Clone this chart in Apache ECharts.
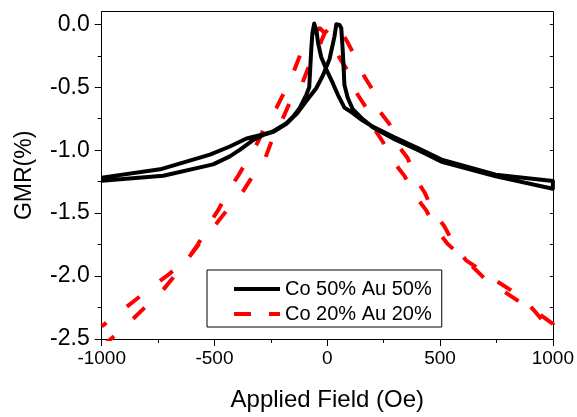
<!DOCTYPE html>
<html>
<head>
<meta charset="utf-8">
<script src="https://cdn.jsdelivr.net/npm/echarts@6/dist/echarts.min.js"></script>
<style>
html,body{margin:0;padding:0;background:#fff;}
#chart{width:577px;height:417px;}
</style>
</head>
<body>
<div id="chart"></div>
<script>
// ---- Data ----
const seriesNames = ['Co 50% Au 50%', 'Co 20% Au 20%'];

// Co 50% Au 50% : sweep up (peak at positive field)
const blackUpField = [-1000,-727,-506,-432,-388,-329,-285,-240,-181,-137,-93,-49,-19,10,32,40,54,62,69,76,91,113,157,201,300,408,511,747,1000];
const blackUpGmr   = [-1.242,-1.203,-1.113,-1.049,-0.997,-0.92,-0.881,-0.855,-0.791,-0.714,-0.61,-0.508,-0.405,-0.276,-0.096,0,-0.005,-0.03,-0.224,-0.482,-0.585,-0.675,-0.753,-0.817,-0.915,-1.005,-1.095,-1.208,-1.306];
// Co 50% Au 50% : sweep down (peak at negative field), listed left to right
const blackDownField = [-1000,-741,-520,-432,-358,-285,-240,-181,-150,-122,-93,-80,-75,-71,-66,-58,-48,-41,-27,-4,25,47,76,113,157,201,300,408,511,747,1000];
const blackDownGmr   = [-1.218,-1.152,-1.036,-0.971,-0.907,-0.875,-0.85,-0.785,-0.73,-0.665,-0.56,-0.5,-0.33,-0.2,-0.07,0.005,-0.05,-0.147,-0.26,-0.36,-0.47,-0.56,-0.662,-0.705,-0.765,-0.812,-0.9,-0.99,-1.078,-1.195,-1.244];

// Co 20% Au 20% : sweep up
const redUpField = [-1000,-962,-903,-807,-749,-667,-623,-557,-506,-432,-380,-321,-277,-240,-211,-167,-122,-86,-56,-11,10,32,42,60,91,121,165,201,231,275,312,356,393,430,474,518,566,614,710,762,864,916,1000];
const redUpGmr   = [-2.56,-2.504,-2.414,-2.246,-2.156,-1.976,-1.873,-1.719,-1.615,-1.448,-1.345,-1.178,-1.074,-0.894,-0.804,-0.624,-0.521,-0.353,-0.263,-0.067,-0.031,-0.005,0,-0.05,-0.147,-0.25,-0.417,-0.521,-0.688,-0.791,-0.958,-1.062,-1.229,-1.332,-1.499,-1.603,-1.76,-1.873,-1.989,-2.053,-2.169,-2.272,-2.45];
// Co 20% Au 20% : sweep down, listed left to right
const redDownField = [-1000,-918,-859,-763,-704,-608,-572,-520,-483,-432,-395,-336,-307,-262,-225,-174,-152,-115,-100,-78,-50,-33,-12,20,62,99,135,172,209,246,297,342,393,437,489,533,636,695,791,850,946,1000];
const redDownGmr   = [-2.40,-2.285,-2.202,-2.066,-1.989,-1.835,-1.744,-1.577,-1.474,-1.306,-1.203,-1.023,-0.933,-0.753,-0.662,-0.482,-0.392,-0.218,-0.16,-0.121,-0.05,-0.031,-0.069,-0.16,-0.289,-0.392,-0.56,-0.662,-0.83,-0.933,-1.1,-1.204,-1.371,-1.474,-1.641,-1.744,-1.912,-2.015,-2.131,-2.202,-2.311,-2.38];

// Axis ticks
const fieldMajor = [-1000,-500,0,500,1000];
const fieldMinor = [-750,-250,250,750];
const gmrMajor = [-2.5,-2.0,-1.5,-1.0,-0.5,0.0];
const gmrMinor = [-2.25,-1.75,-1.25,-0.75,-0.25];

// ---- Build loops: sweep up then sweep down (reversed) ----
function loop(upX, upY, downX, downY){
  const pts = upX.map((x,i)=>[x, upY[i]]);
  for(let i=downX.length-1;i>=0;i--) pts.push([downX[i], downY[i]]);
  return pts;
}

const FONT = '"Liberation Sans", Arial, sans-serif';
const chart = echarts.init(document.getElementById('chart'), null, {renderer:'canvas'});

const xCommon = {type:'value', min:-1000, max:1000, splitLine:{show:false}};
const yCommon = {type:'value', min:-2.5, max:0.1, splitLine:{show:false}};

chart.setOption({
  animation:false,
  backgroundColor:'#fff',
  grid:{left:101.7, right:22.7, top:11.7, bottom:69.3, show:false},
  xAxis:[
    Object.assign({}, xCommon, {
      position:'bottom',
      name:'Applied Field (Oe)', nameLocation:'middle', nameGap:49,
      nameTextStyle:{fontFamily:FONT, fontSize:24, color:'#000'},
      axisLine:{show:true, onZero:false, lineStyle:{color:'#000', width:1}},
      axisTick:{show:true, inside:false, length:7, lineStyle:{color:'#000', width:1}, customValues:fieldMajor},
      axisLabel:{show:true, margin:10, fontFamily:FONT, fontSize:19, color:'#000', customValues:fieldMajor,
        formatter:function(v){ return String(Math.round(v)); }}
    }),
    Object.assign({}, xCommon, {
      position:'bottom',
      axisLine:{show:false, onZero:false},
      axisTick:{show:true, inside:false, length:4, lineStyle:{color:'#000', width:1}, customValues:fieldMinor},
      axisLabel:{show:false}
    }),
    Object.assign({}, xCommon, {
      position:'top',
      axisLine:{show:true, onZero:false, lineStyle:{color:'#000', width:1}},
      axisTick:{show:false},
      axisLabel:{show:false}
    })
  ],
  yAxis:[
    Object.assign({}, yCommon, {
      position:'left',
      name:'GMR(%)', nameLocation:'middle', nameGap:66, nameRotate:90,
      nameTextStyle:{fontFamily:FONT, fontSize:23, color:'#000'},
      axisLine:{show:true, onZero:false, lineStyle:{color:'#000', width:1}},
      axisTick:{show:true, inside:false, length:7, lineStyle:{color:'#000', width:1}, customValues:gmrMajor},
      axisLabel:{show:true, margin:12, fontFamily:FONT, fontSize:23, color:'#000', customValues:gmrMajor,
        formatter:function(v){ return (Math.abs(v)<1e-9?0:v).toFixed(1); }}
    }),
    Object.assign({}, yCommon, {
      position:'left',
      axisLine:{show:false, onZero:false},
      axisTick:{show:true, inside:false, length:4, lineStyle:{color:'#000', width:1}, customValues:gmrMinor},
      axisLabel:{show:false}
    }),
    Object.assign({}, yCommon, {
      position:'right',
      axisLine:{show:true, onZero:false, lineStyle:{color:'#000', width:1}},
      axisTick:{show:true, inside:true, length:3, lineStyle:{color:'#000', width:1}, customValues:gmrMajor.concat(gmrMinor)},
      axisLabel:{show:false}
    })
  ],
  legend:{
    orient:'vertical',
    left:207, top:270,
    padding:[9,10,3,25],
    backgroundColor:'#fff',
    borderColor:'#000', borderWidth:1, borderRadius:0,
    itemWidth:46, itemHeight:14, itemGap:5, itemTextGap:7,
    itemStyle:{opacity:0},
    textStyle:{fontFamily:FONT, fontSize:20, color:'#000', lineHeight:20},
    data:[
      {name:seriesNames[0], itemStyle:{opacity:0}, lineStyle:{type:'solid', width:4, color:'#000', opacity:1}},
      {name:seriesNames[1], itemStyle:{opacity:0}, lineStyle:{type:[17,18], width:4, color:'#ff0000', opacity:1}}
    ]
  },
  series:[
    {
      name:seriesNames[0], type:'line', xAxisIndex:0, yAxisIndex:0,
      data:loop(blackUpField, blackUpGmr, blackDownField, blackDownGmr),
      symbol:'none', showSymbol:false, smooth:false, clip:true,
      lineStyle:{color:'#000', width:4, type:'solid', join:'round'},
      itemStyle:{color:'#000'}, z:3
    },
    {
      name:seriesNames[1], type:'line', xAxisIndex:0, yAxisIndex:0,
      data:loop(redUpField, redUpGmr, redDownField, redDownGmr),
      symbol:'none', showSymbol:false, smooth:false, clip:true,
      lineStyle:{color:'#ff0000', width:4, type:[16,26], cap:'butt', join:'round'},
      itemStyle:{color:'#ff0000'}, z:2
    }
  ]
});
</script>
</body>
</html>
